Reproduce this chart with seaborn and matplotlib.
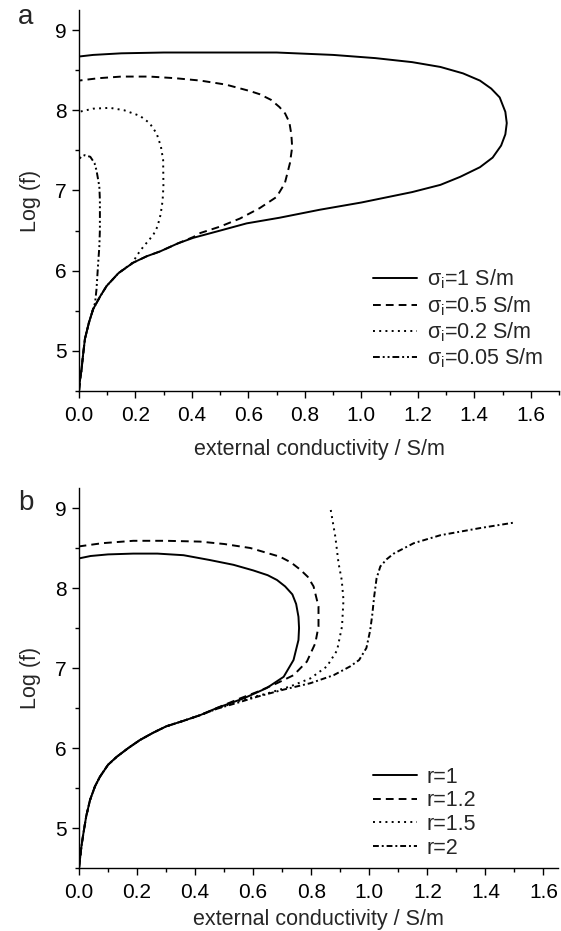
import numpy as np
import pandas as pd
import matplotlib
matplotlib.use("Agg")
import matplotlib.pyplot as plt
from matplotlib.ticker import MultipleLocator
import seaborn as sns

sns.set_theme(style="ticks")
plt.rcParams['font.family'] = ['Liberation Sans', 'DejaVu Sans']
plt.rcParams['mathtext.fontset'] = 'custom'
plt.rcParams['mathtext.rm'] = 'Liberation Sans'
plt.rcParams['mathtext.it'] = 'Liberation Sans'
plt.rcParams['mathtext.bf'] = 'Liberation Sans:bold'

# ---------------- Panel a data ----------------
a_labels = [r'$\sigma_i$=1 S/m', r'$\sigma_i$=0.5 S/m', r'$\sigma_i$=0.2 S/m', r'$\sigma_i$=0.05 S/m']

a1_x = [0, 0.003, 0.009, 0.015, 0.021, 0.035, 0.05, 0.075, 0.098, 0.14, 0.192, 0.24, 0.287, 0.35, 0.405,
        0.50, 0.594, 0.71, 0.853, 1.0, 1.18, 1.28, 1.35, 1.42, 1.465, 1.495, 1.51, 1.515, 1.51, 1.49, 1.46,
        1.42, 1.36, 1.28, 1.18, 1.05, 0.9, 0.7, 0.5, 0.3, 0.15, 0.05, 0]
a1_y = [4.5, 4.62, 4.77, 4.97, 5.15, 5.35, 5.52, 5.68, 5.81, 5.97, 6.10, 6.18, 6.24, 6.34, 6.41,
        6.50, 6.59, 6.66, 6.76, 6.85, 6.98, 7.07, 7.17, 7.29, 7.41, 7.56, 7.70, 7.84, 7.98, 8.16, 8.27,
        8.37, 8.46, 8.54, 8.60, 8.65, 8.69, 8.72, 8.72, 8.72, 8.71, 8.69, 8.67]

a2_x = [0, 0.003, 0.009, 0.015, 0.021, 0.035, 0.05, 0.075, 0.098, 0.14, 0.192, 0.24, 0.287, 0.35, 0.405,
        0.43, 0.50, 0.57, 0.64, 0.70, 0.729, 0.747, 0.755, 0.752, 0.745, 0.73, 0.71, 0.68, 0.64, 0.605,
        0.52, 0.43, 0.34, 0.25, 0.15, 0.07, 0]
a2_y = [4.5, 4.62, 4.77, 4.97, 5.15, 5.35, 5.52, 5.68, 5.81, 5.97, 6.10, 6.18, 6.24, 6.34, 6.42,
        6.47, 6.55, 6.65, 6.78, 6.92, 7.09, 7.34, 7.54, 7.70, 7.85, 7.96, 8.04, 8.13, 8.20, 8.24,
        8.32, 8.37, 8.40, 8.42, 8.42, 8.40, 8.37]

a3_x = [0, 0.003, 0.009, 0.015, 0.021, 0.035, 0.05, 0.075, 0.098, 0.14, 0.19, 0.207, 0.228, 0.25, 0.265,
        0.278, 0.289, 0.296, 0.299, 0.298, 0.29, 0.275, 0.25, 0.216, 0.16, 0.11, 0.05, 0]
a3_y = [4.5, 4.62, 4.77, 4.97, 5.15, 5.35, 5.52, 5.68, 5.81, 5.97, 6.10, 6.20, 6.30, 6.39, 6.46,
        6.55, 6.70, 6.87, 7.05, 7.38, 7.55, 7.71, 7.84, 7.93, 8.00, 8.03, 8.02, 7.98]

a4_x = [0, 0.003, 0.009, 0.015, 0.021, 0.035, 0.05, 0.057, 0.062, 0.068, 0.072, 0.074, 0.074, 0.072,
        0.068, 0.062, 0.055, 0.04, 0.02, 0.008, 0]
a4_y = [4.5, 4.62, 4.77, 4.97, 5.15, 5.35, 5.52, 5.60, 5.77, 6.10, 6.30, 6.51, 6.88, 7.05,
        7.13, 7.25, 7.34, 7.42, 7.44, 7.42, 7.39]

# ---------------- Panel b data ----------------
b_labels = ['r=1', 'r=1.2', 'r=1.5', 'r=2']

b_low_x = [0, 0.003, 0.008, 0.015, 0.025, 0.038, 0.055, 0.072, 0.1, 0.13, 0.17, 0.21, 0.255, 0.3, 0.36, 0.417]
b_low_y = [4.5, 4.60, 4.76, 4.93, 5.15, 5.35, 5.52, 5.64, 5.79, 5.89, 6.00, 6.10, 6.19, 6.27, 6.34, 6.41]

b1_x = b_low_x + [0.475, 0.567, 0.647, 0.705, 0.739, 0.756, 0.758, 0.756, 0.748, 0.735, 0.71, 0.682,
                  0.65, 0.6, 0.532, 0.45, 0.36, 0.27, 0.187, 0.1, 0.04, 0]
b1_y = b_low_y + [6.50, 6.62, 6.75, 6.89, 7.10, 7.35, 7.50, 7.64, 7.80, 7.92, 8.02, 8.10,
                  8.16, 8.22, 8.29, 8.35, 8.41, 8.43, 8.43, 8.42, 8.40, 8.37]

b2_x = b_low_x + [0.475, 0.555, 0.613, 0.682, 0.739, 0.785, 0.814, 0.825, 0.825, 0.808, 0.788, 0.762,
                  0.73, 0.693, 0.59, 0.5, 0.417, 0.3, 0.187, 0.08, 0]
b2_y = b_low_y + [6.50, 6.62, 6.70, 6.81, 6.91, 7.08, 7.31, 7.52, 7.77, 8.02, 8.14, 8.23,
                  8.32, 8.39, 8.50, 8.55, 8.58, 8.59, 8.59, 8.56, 8.52]

b3_x = b_low_x + [0.475, 0.56, 0.647, 0.728, 0.797, 0.854, 0.889, 0.906, 0.911, 0.905, 0.894, 0.883, 0.866]
b3_y = b_low_y + [6.49, 6.60, 6.68, 6.77, 6.87, 7.02, 7.22, 7.52, 7.85, 8.10, 8.31, 8.64, 9.00]

b4_x = b_low_x + [0.475, 0.55, 0.613, 0.705, 0.797, 0.877, 0.934, 0.965, 0.99, 1.003, 1.01, 1.017,
                  1.025, 1.038, 1.06, 1.084, 1.153, 1.245, 1.383, 1.503]
b4_y = b_low_y + [6.49, 6.57, 6.64, 6.73, 6.81, 6.91, 7.02, 7.10, 7.25, 7.47, 7.66, 7.90,
                  8.12, 8.27, 8.36, 8.43, 8.56, 8.66, 8.75, 8.82]

x_label = 'external conductivity / S/m'
y_label = 'Log (f)'


def make_df(xs, ys, labels):
    frames = []
    for x, y, lab in zip(xs, ys, labels):
        frames.append(pd.DataFrame({'x': x, 'y': y, 'series': lab}))
    return pd.concat(frames, ignore_index=True)


df_a = make_df([a1_x, a2_x, a3_x, a4_x], [a1_y, a2_y, a3_y, a4_y], a_labels)
df_b = make_df([b1_x, b2_x, b3_x, b4_x], [b1_y, b2_y, b3_y, b4_y], b_labels)

dashes_a = {a_labels[0]: "", a_labels[1]: (4.0, 2.6), a_labels[2]: (1.0, 2.2),
            a_labels[3]: (3.5, 1.5, 1.0, 1.5, 1.0, 1.5)}
dashes_b = {b_labels[0]: "", b_labels[1]: (4.0, 2.6), b_labels[2]: (1.0, 2.2),
            b_labels[3]: (3.0, 1.5, 1.0, 1.5)}

fig = plt.figure(figsize=(5.61, 9.31), dpi=100)
ax_a = fig.add_axes([79/561, 1 - 391/931, 480/561, 381/931])
ax_b = fig.add_axes([79/561, 1 - 868/931, 479/561, 380/931])

FS_TICK = 15
FS_LAB = 15.5
FS_LEG = 15.5
for ax, df, labels, dashes, xmax, letter, anchor, xpad in [
        (ax_a, df_a, a_labels, dashes_a, 1.70, 'a', (0.6125, 0.055), 10),
        (ax_b, df_b, b_labels, dashes_b, 1.65, 'b', (0.6138, 0.025), 5)]:
    sns.lineplot(data=df, x='x', y='y', style='series', style_order=labels, dashes=dashes,
                 sort=False, estimator=None, color='black', lw=1.4, ax=ax, legend=False)
    ax.set_xlim(0, xmax)
    ax.set_ylim(4.5, 9.25)
    ax.xaxis.set_minor_locator(MultipleLocator(0.1))
    ax.yaxis.set_minor_locator(MultipleLocator(0.5))
    ax.set_xticks(np.arange(0, 1.61, 0.2))
    ax.set_xticklabels([f'{v:.1f}' for v in np.arange(0, 1.61, 0.2)])
    ax.set_yticks([5, 6, 7, 8, 9])
    ax.tick_params(axis='x', which='major', pad=6)
    ax.tick_params(axis='y', which='major', pad=4)
    ax.tick_params(axis='both', which='major', direction='out', length=5, width=1,
                   labelsize=FS_TICK, color='black', labelcolor='black')
    ax.tick_params(axis='both', which='minor', direction='out', length=3, width=1, color='black')
    for s in ['top', 'right']:
        ax.spines[s].set_visible(False)
    for s in ['left', 'bottom']:
        ax.spines[s].set_linewidth(1.0)
        ax.spines[s].set_color('black')
    ax.set_xlabel(x_label, fontsize=FS_LAB, labelpad=xpad)
    ax.set_ylabel(y_label, fontsize=FS_LAB, labelpad=10)
    handles = ax.get_lines()[:4]
    ax.legend(handles, labels, loc='lower left', bbox_to_anchor=anchor,
              frameon=False, fontsize=FS_LEG, handlelength=2.05, handletextpad=0.45,
              labelspacing=0.12, borderaxespad=0, borderpad=0)
    fig.text(18/561, 1 - (503 if letter == 'b' else 17)/931, letter, fontsize=20,
             ha='left', va='center')

fig.savefig('out.png', dpi=100)
